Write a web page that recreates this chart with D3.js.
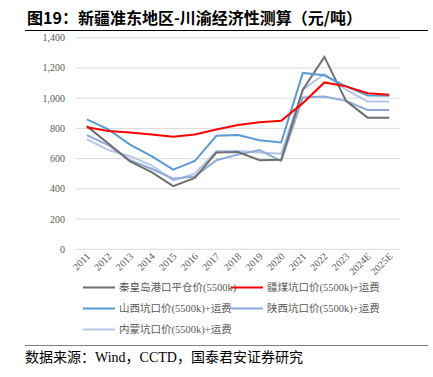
<!DOCTYPE html>
<head>
<meta charset="utf-8">
<title>新疆准东地区-川渝经济性测算</title>
<style>
  body { margin: 0; background: #fff; }
  text { font-family: "Liberation Serif", "Noto Sans CJK SC", serif; }
</style>
</head>
<body>
<script src="https://cdn.jsdelivr.net/npm/d3@7"></script>
<script>
const years = ['2011','2012','2013','2014','2015','2016','2017','2018','2019','2020','2021','2022','2023','2024E','2025E'];
const qhd = [815, 700, 582, 511, 418, 473, 640, 644, 589, 593, 1056, 1273, 982, 871, 871];
const xinjiang = [807, 782, 773, 760, 744, 760, 793, 822, 840, 851, 967, 1104, 1078, 1033, 1022];
const shanxi = [860, 793, 693, 616, 527, 584, 751, 756, 722, 707, 1167, 1151, 1078, 1018, 1016];
const shaanxi = [756, 689, 589, 533, 467, 482, 589, 627, 656, 584, 1004, 1011, 982, 922, 922];
const neimeng = [729, 656, 616, 556, 456, 500, 651, 651, 640, 633, 1056, 1158, 1056, 978, 978];
const yTicks = [0, 200, 400, 600, 800, 1000, 1200, 1400];

const series = [
  {name: '秦皇岛港口平仓价(5500k)', values: qhd, color: '#6f6f6f'},
  {name: '疆煤坑口价(5500k)+运费', values: xinjiang, color: '#ff0000'},
  {name: '山西坑口价(5500k)+运费', values: shanxi, color: '#5b9bd5'},
  {name: '陕西坑口价(5500k)+运费', values: shaanxi, color: '#8faadc'},
  {name: '内蒙坑口价(5500k)+运费', values: neimeng, color: '#b4c7e7'}
];

const W = 433, H = 377;
const svg = d3.select('body').append('svg')
  .attr('width', W).attr('height', H);

// title
svg.append('text')
  .attr('x', 27).attr('y', 24)
  .style('font-size', '16px').style('font-weight', 'bold')
  .style('font-family', '"Noto Sans CJK SC", sans-serif')
  .text('图19：新疆准东地区-川渝经济性测算（元/吨）');
svg.append('line')
  .attr('x1', 25).attr('x2', 428).attr('y1', 30.5).attr('y2', 30.5)
  .attr('stroke', '#000').attr('stroke-width', 1);

const x = d3.scaleBand().domain(years).range([76, 400]);
const y = d3.scaleLinear().domain([0, 1400]).range([249.3, 37.7]);

// grid
svg.append('g').selectAll('line')
  .data(yTicks).enter().append('line')
  .attr('x1', 76).attr('x2', 400)
  .attr('y1', d => y(d)).attr('y2', d => y(d))
  .attr('stroke', '#d9d9d9').attr('stroke-width', 1);

svg.append('g').selectAll('text')
  .data(yTicks).enter().append('text')
  .attr('x', 65).attr('y', d => y(d)).attr('dy', '0.35em')
  .attr('text-anchor', 'end')
  .style('font-size', '10px').attr('fill', '#595959')
  .text(d => d3.format(',')(d));

// x labels
svg.append('g').selectAll('text')
  .data(years).enter().append('text')
  .attr('transform', d => 'translate(' + (x(d) + x.bandwidth() / 2 + 4) + ',' + 257 + ') rotate(-45)')
  .attr('text-anchor', 'end')
  .style('font-size', '10px').attr('fill', '#595959')
  .text(d => d);

const line = d3.line()
  .x((d, i) => x(years[i]) + x.bandwidth() / 2)
  .y(d => y(d));

// draw order: lighter lines first
const drawOrder = [4, 3, 0, 2, 1];
svg.append('g').selectAll('path')
  .data(drawOrder.map(i => series[i])).enter().append('path')
  .attr('d', d => line(d.values))
  .attr('fill', 'none')
  .attr('stroke', d => d.color)
  .attr('stroke-width', 2);

// legend
const legendPos = [[83, 287.5], [231, 287.5], [83, 308.5], [231, 308.5], [83, 329.5]];
const lg = svg.append('g').selectAll('g')
  .data(series).enter().append('g')
  .attr('transform', (d, i) => 'translate(' + legendPos[i][0] + ',' + legendPos[i][1] + ')');
lg.append('line')
  .attr('x1', 0).attr('x2', 32)
  .attr('stroke', d => d.color).attr('stroke-width', 2);
lg.append('text')
  .attr('x', 36).attr('dy', '0.35em')
  .style('font-size', '10.5px').attr('fill', '#595959')
  .text(d => d.name);

// source
svg.append('line')
  .attr('x1', 25).attr('x2', 428).attr('y1', 345.5).attr('y2', 345.5)
  .attr('stroke', '#808080').attr('stroke-width', 1.2);
svg.append('text')
  .attr('x', 25).attr('y', 362)
  .style('font-size', '14px').attr('fill', '#000')
  .text('数据来源：Wind，CCTD，国泰君安证券研究');
</script>
</body>
